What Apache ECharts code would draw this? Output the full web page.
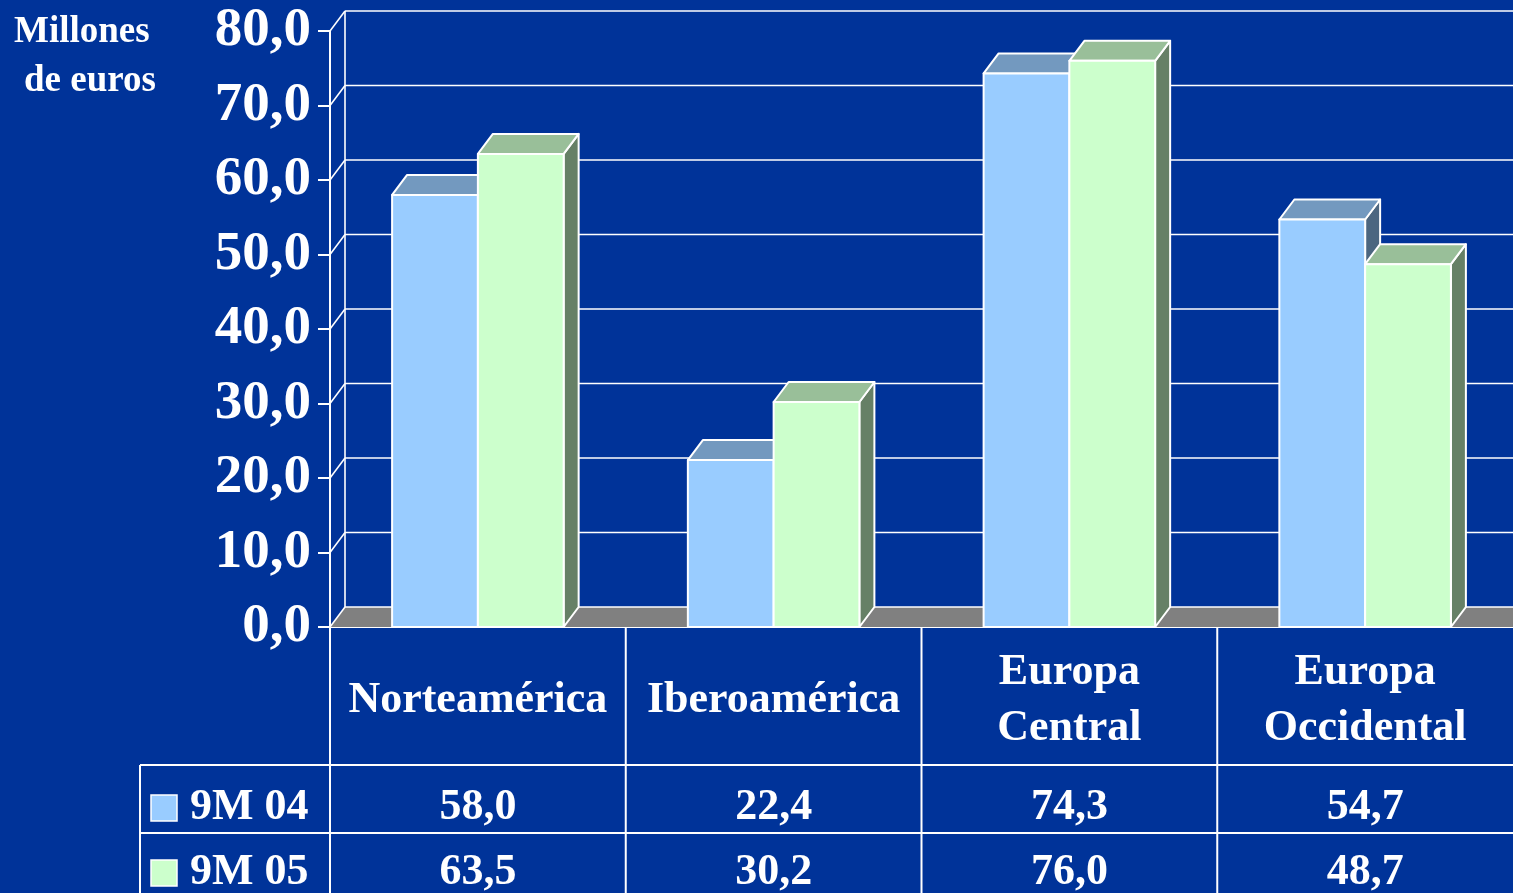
<!DOCTYPE html>
<html>
<head>
<meta charset="utf-8">
<script src="https://cdn.jsdelivr.net/npm/echarts@6/dist/echarts.min.js"></script>
<style>
html,body{margin:0;padding:0;background:#003399;}
#chart{width:1513px;height:893px;}
</style>
</head>
<body>
<div id="chart"></div>
<script>
// ---- data ----
const categories = ['Norteamérica', 'Iberoamérica', 'Europa\nCentral', 'Europa\nOccidental'];
const seriesNames = ['9M 04', '9M 05'];
const values04 = [58.0, 22.4, 74.3, 54.7];
const values05 = [63.5, 30.2, 76.0, 48.7];
const yTicks = [0, 10, 20, 30, 40, 50, 60, 70, 80];

// ---- style / layout ----
const FONT = "'Liberation Serif','Times New Roman',serif";
const BG = '#003399';
const GRID_L = 330, GRID_T = 31, GRID_B = 893 - 627, GRID_R = 0;
const DX = 15, DY = -20;
const colors = [
  {front: '#99ccff', top: '#7399bf', side: '#4c6680'},
  {front: '#ccffcc', top: '#99bf99', side: '#668066'}
];
const fmt = v => v.toFixed(1).replace('.', ',');

function barRender(si) {
  return function (params, api) {
    const cat = api.value(0), v = api.value(1);
    const c = api.coord([cat, v]);
    const c0 = api.coord([cat, 0]);
    const band = api.size([1, 0])[0];
    const w = band * 0.29;
    const x0 = si === 0 ? c[0] - w : c[0];
    const x1 = x0 + w;
    const yt = c[1], yb = c0[1];
    const col = colors[si];
    const st = {stroke: '#ffffff', lineWidth: 2, lineJoin: 'round'};
    return {
      type: 'group',
      children: [
        {type: 'polygon', shape: {points: [[x1, yt], [x1 + DX, yt + DY], [x1 + DX, yb + DY], [x1, yb]]},
          style: Object.assign({fill: col.side}, st)},
        {type: 'polygon', shape: {points: [[x0, yt], [x0 + DX, yt + DY], [x1 + DX, yt + DY], [x1, yt]]},
          style: Object.assign({fill: col.top}, st)},
        {type: 'rect', shape: {x: x0, y: yt, width: w, height: yb - yt},
          style: Object.assign({fill: col.front}, st)}
      ]
    };
  };
}

function frameRender(params, api) {
  const v = api.value(0);
  const cs = params.coordSys;
  const y = api.coord([0, v])[1];
  const xl = cs.x, xr = cs.x + cs.width + 40;
  const ls = {stroke: '#ffffff', lineWidth: 1.6};
  const children = [];
  if (v === 0) {
    const yTop = api.coord([0, yTicks[yTicks.length - 1]])[1];
    children.push({type: 'polygon', shape: {points: [[xl, y], [xl + DX, y + DY], [xr + DX, y + DY], [xr, y]]},
      style: {fill: '#808080'}});
    children.push({type: 'line', shape: {x1: xl + DX, y1: y + DY, x2: xl + DX, y2: yTop + DY}, style: ls});
  }
  children.push({type: 'line', shape: {x1: xl, y1: y, x2: xl + DX, y2: y + DY}, style: ls});
  children.push({type: 'line', shape: {x1: xl + DX, y1: y + DY, x2: xr, y2: y + DY}, style: ls});
  return {type: 'group', children};
}

// ---- data table (graphic) ----
const W = 1513;
const colW = (W - GRID_L) / categories.length;
const HDR_Y = 627, ROW1_Y = 765, ROW2_Y = 833, TBL_BOT = 900, LEG_X = 140;
const lineStyle = {stroke: '#ffffff', lineWidth: 2};
const graphics = [];
function hline(x1, x2, y) { graphics.push({type: 'line', shape: {x1, y1: y, x2, y2: y}, style: lineStyle, z: 50}); }
function vline(x, y1, y2) { graphics.push({type: 'line', shape: {x1: x, y1, x2: x, y2}, style: lineStyle, z: 50}); }
hline(LEG_X, W, ROW1_Y);
hline(LEG_X, W, ROW2_Y);
vline(LEG_X, ROW1_Y, TBL_BOT);
for (let i = 0; i < categories.length; i++) vline(GRID_L + i * colW, HDR_Y, TBL_BOT);
const rows = [values04, values05];
const rowCenters = [808, 873];
const squareCenters = [808, 873];
rows.forEach((vals, r) => {
  graphics.push({type: 'rect', shape: {x: 151, y: squareCenters[r] - 13, width: 26, height: 26},
    style: {fill: colors[r].front, stroke: '#ffffff', lineWidth: 1.5}, z: 50});
  graphics.push({type: 'text', x: 190, y: rowCenters[r],
    style: {text: seriesNames[r], fill: '#ffffff', font: 'bold 44px ' + FONT, textAlign: 'left', textVerticalAlign: 'middle'}, z: 50});
  vals.forEach((v, i) => {
    graphics.push({type: 'text', x: GRID_L + (i + 0.5) * colW, y: rowCenters[r],
      style: {text: fmt(v), fill: '#ffffff', font: 'bold 44px ' + FONT, textAlign: 'center', textVerticalAlign: 'middle'}, z: 50});
  });
});
graphics.push({type: 'text', x: 14, y: 32,
  style: {text: 'Millones', fill: '#ffffff', font: 'bold 37px ' + FONT, textAlign: 'left', textVerticalAlign: 'middle'}});
graphics.push({type: 'text', x: 24, y: 81,
  style: {text: 'de euros', fill: '#ffffff', font: 'bold 37px ' + FONT, textAlign: 'left', textVerticalAlign: 'middle'}});

const chart = echarts.init(document.getElementById('chart'));
chart.setOption({
  backgroundColor: BG,
  animation: false,
  grid: {left: GRID_L, top: GRID_T, bottom: GRID_B, right: GRID_R, containLabel: false},
  xAxis: {
    type: 'category', data: categories, boundaryGap: true,
    axisLine: {show: true, lineStyle: {color: '#ffffff', width: 2}},
    axisTick: {show: false}, splitLine: {show: false},
    axisLabel: {color: '#ffffff', fontFamily: FONT, fontWeight: 'bold', fontSize: 44,
      margin: 74, verticalAlign: 'middle', lineHeight: 56, interval: 0}
  },
  yAxis: {
    type: 'value', min: 0, max: 80, interval: 10,
    axisLine: {show: true, lineStyle: {color: '#ffffff', width: 2}},
    axisTick: {show: true, length: 12, lineStyle: {color: '#ffffff', width: 2}},
    splitLine: {show: false},
    axisLabel: {color: '#ffffff', fontFamily: FONT, fontWeight: 'bold', fontSize: 55, margin: 19,
      padding: [15, 0, 0, 0], formatter: v => fmt(v)}
  },
  graphic: graphics,
  series: [
    {type: 'custom', name: 'frame', renderItem: frameRender, data: yTicks.map(t => [t]),
      encode: {y: 0}, z: 1, silent: true, clip: false},
    {type: 'custom', name: seriesNames[0], renderItem: barRender(0),
      data: values04.map((v, i) => [i, v]), encode: {x: 0, y: 1}, z: 2, clip: false},
    {type: 'custom', name: seriesNames[1], renderItem: barRender(1),
      data: values05.map((v, i) => [i, v]), encode: {x: 0, y: 1}, z: 3, clip: false}
  ]
});
</script>
</body>
</html>
